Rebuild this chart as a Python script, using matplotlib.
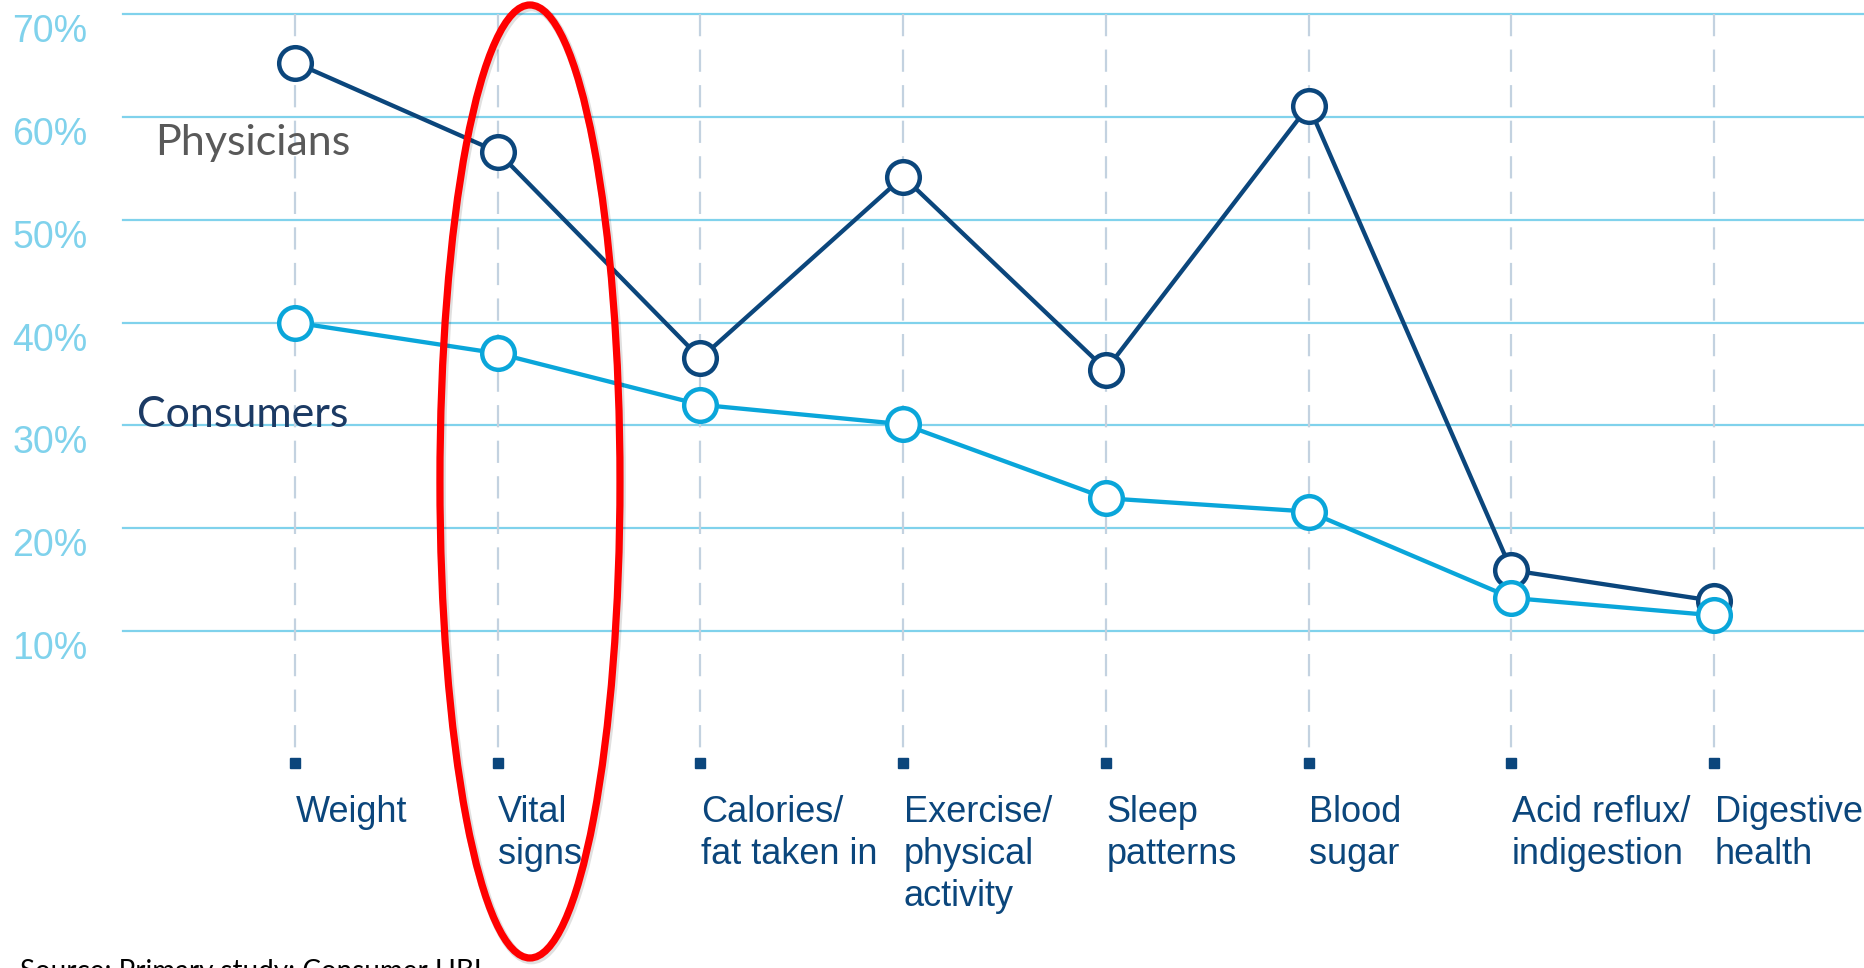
import numpy as np
import matplotlib.pyplot as plt
from matplotlib.patches import Ellipse

# survey results: share of respondents tracking each health metric (%)
categories = ['Weight', 'Vital\nsigns', 'Calories/\nfat taken in', 'Exercise/\nphysical\nactivity',
              'Sleep\npatterns', 'Blood\nsugar', 'Acid reflux/\nindigestion', 'Digestive\nhealth']
physicians = [65.3, 56.6, 36.5, 54.2, 35.4, 61.1, 15.9, 12.9]
consumers = [40.0, 37.0, 32.0, 30.1, 22.9, 21.6, 13.2, 11.5]
grid_levels = [10, 20, 30, 40, 50, 60, 70]
grid_labels = ['10%', '20%', '30%', '40%', '50%', '60%', '70%']

navy = '#0b467c'
light_blue = '#0aa6da'
grid_blue = '#80d2ec'
dash_grey = '#c3d2e0'

fig = plt.figure(figsize=(18.64, 9.68), dpi=100)
ax = fig.add_axes([0, 0, 1, 1])
ax.set_xlim(-1.455, 7.739)
ax.set_ylim(-22.82, 71.39)
ax.axis('off')

x = np.arange(len(categories))

# horizontal grid and percentage labels sitting just under each line
for lvl, lab in zip(grid_levels, grid_labels):
    ax.axhline(lvl, xmin=0.066, xmax=1, color=grid_blue, lw=1.6, zorder=1)
    ax.text(-1.395, lvl - 1.75, lab, color=grid_blue, fontsize=27,
            family='Liberation Sans', ha='left', va='center')

# dashed drop lines and square tick marks for each category
for xi in x:
    ax.plot([xi, xi], [70, -1.6], color=dash_grey, lw=1.6, dashes=(10, 6), zorder=1)
ax.plot(x, np.full(len(x), -2.87), 's', color=navy, ms=7.4, zorder=2)

for xi, lab in zip(x, categories):
    ax.text(xi + 0.003, -6.0, lab, color=navy, fontsize=26, family='Liberation Sans',
            ha='left', va='top', linespacing=1.25)

ax.plot(x, physicians, color=navy, lw=3.1, marker='o', ms=23.5, mfc='white',
        mec=navy, mew=3.2, zorder=3)
ax.plot(x, consumers, color=light_blue, lw=3.1, marker='o', ms=23.5, mfc='white',
        mec=light_blue, mew=3.2, zorder=4)

ax.text(-0.69, 56.3, 'Physicians', color='#595959', fontsize=31, family='Lato',
        ha='left', va='baseline')
ax.text(-0.78, 29.8, 'Consumers', color='#1b3a64', fontsize=31, family='Lato',
        ha='left', va='baseline')

# highlight ring round the vital signs column, with a faint drop shadow
shadow = Ellipse((1.166, 24.35), 0.888, 92.75, fill=False, ec='#000000', lw=6.5,
                 alpha=0.12, zorder=5)
ax.add_patch(shadow)
ring = Ellipse((1.159, 24.53), 0.888, 92.75, fill=False, ec='#ff0000', lw=5.2, zorder=6)
ax.add_patch(ring)

fig.text(20 / 1864, 1 - 959 / 968, 'Source: Primary study; Consumer HBI', fontsize=20,
         family='Lato', color='black', ha='left', va='top')

fig.savefig('out.png', dpi=100)
